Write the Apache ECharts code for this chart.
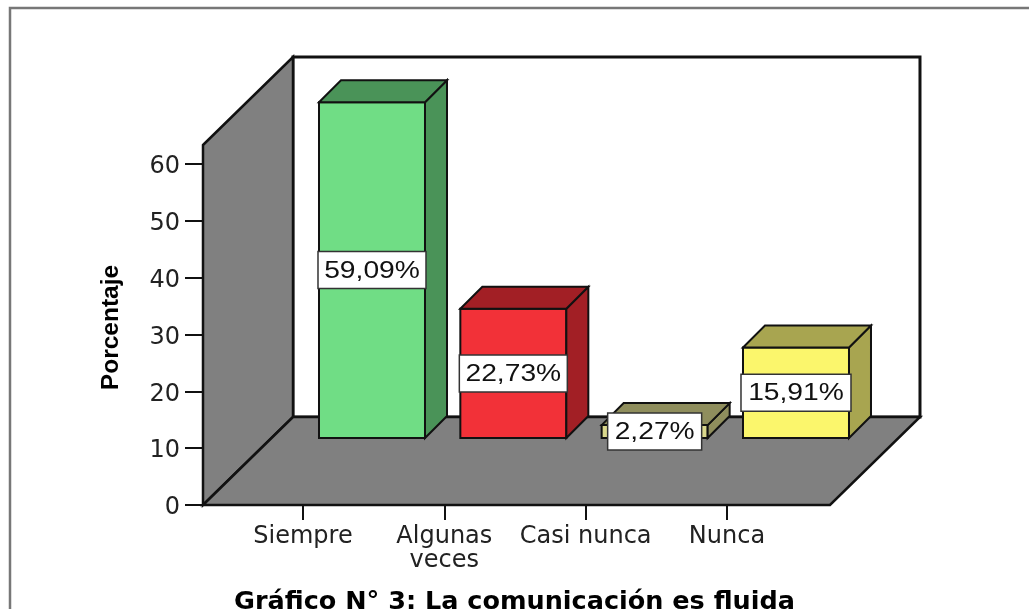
<!DOCTYPE html>
<html>
<head>
<meta charset="utf-8">
<style>html,body{margin:0;padding:0;background:#fff}#c{width:1029px;height:609px}</style>
<script src="https://cdn.jsdelivr.net/npm/echarts@6/dist/echarts.min.js"></script>
</head>
<body>
<div id="c"></div>
<script>
const categories = ['Siempre', 'Algunas\nveces', 'Casi nunca', 'Nunca'];
const values = [59.09, 22.73, 2.27, 15.91];
const yTicks = [0, 60, 10];
const frontColors = ['#70DD85', '#F23138', '#D9D78C', '#FBF66C'];
const darkColors = ['#4A9358', '#A21F25', '#8F8E5D', '#A8A550'];
const titleText = 'Gráfico N° 3: La comunicación es fluida';
const axisTitle = 'Porcentaje';

const chart = echarts.init(document.getElementById('c'));
const INK = '#111';
const WALL = '#808080';
// Depth projection of the box
const wallDX = 90, wallDY = -88;
const barPlaneDX = 69, barPlaneDY = -67;
const barDepthDX = 22, barDepthDY = -22;
const barWidth = 106;
const sidePad = 29.33, topPad = 19;

function poly(points, fill, width) {
  return { type: 'polygon', shape: { points }, style: { fill, stroke: INK, lineWidth: width, lineJoin: 'miter' } };
}

function renderWalls(params, api) {
  const cs = params.coordSys;
  const x0 = cs.x - sidePad, x1 = cs.x + cs.width + sidePad + 3;
  const yb = cs.y + cs.height, yt = cs.y - topPad;
  const dx = wallDX, dy = wallDY;
  return { type: 'group', silent: true, children: [
    poly([[x0 + dx, yt + dy], [x1 + dx, yt + dy], [x1 + dx, yb + dy], [x0 + dx, yb + dy]], '#fff', 3),
    poly([[x0, yt], [x0 + dx, yt + dy], [x0 + dx, yb + dy], [x0, yb]], WALL, 2.5),
    poly([[x0, yb], [x0 + dx, yb + dy], [x1 + dx, yb + dy], [x1, yb]], WALL, 2.5)
  ]};
}

function renderBar(params, api) {
  const i = api.value(0), v = api.value(1);
  const base = api.coord([i, 0]), top = api.coord([i, v]);
  const l = base[0] + barPlaneDX - barWidth / 2, r = l + barWidth;
  const b = base[1] + barPlaneDY, t = top[1] + barPlaneDY;
  const dx = barDepthDX, dy = barDepthDY;
  const front = frontColors[params.dataIndex], dark = darkColors[params.dataIndex];
  const label = v.toFixed(2).replace('.', ',') + '%';
  const bw = params.dataIndex === 3 ? 110 : params.dataIndex === 2 ? 94 : 108;
  const cx = (l + r) / 2, cy = (t + b) / 2;
  return { type: 'group', silent: true, children: [
    poly([[l, t], [r, t], [r, b], [l, b]], front, 2),
    poly([[r, t], [r + dx, t + dy], [r + dx, b + dy], [r, b]], dark, 2),
    poly([[l, t], [l + dx, t + dy], [r + dx, t + dy], [r, t]], dark, 2),
    { type: 'rect', shape: { x: cx - bw / 2, y: cy - 18.5, width: bw, height: 37 },
      style: { fill: '#fff', stroke: '#333', lineWidth: 1.5 } },
    { type: 'text', x: cx, y: cy + 1, scaleX: 1.2, style: { text: label, fill: '#111',
      font: '23.5px "Liberation Sans"', align: 'center', verticalAlign: 'middle' } }
  ]};
}

chart.setOption({
  animation: false,
  backgroundColor: '#fff',
  title: { text: titleText, left: 'center', top: 589, padding: 0,
    textStyle: { fontFamily: 'DejaVu Sans', fontWeight: 'bold', fontSize: 25.5, color: '#000' } },
  graphic: [{ type: 'rect', shape: { x: 10, y: 8, width: 1100, height: 700 },
    style: { fill: 'none', stroke: '#777', lineWidth: 2.5 }, silent: true }],
  grid: { left: 232.33, width: 565.33, top: 164, height: 341 },
  xAxis: { type: 'category', data: categories,
    axisLine: { show: false },
    axisTick: { show: true, alignWithLabel: true, length: 15, lineStyle: { color: INK, width: 2 } },
    axisLabel: { fontFamily: 'DejaVu Sans', fontSize: 24, color: '#222', margin: 20, lineHeight: 24, interval: 0 } },
  yAxis: { type: 'value', min: yTicks[0], max: yTicks[1], interval: yTicks[2], offset: 29.33,
    name: axisTitle, nameLocation: 'middle', nameGap: 79, nameRotate: 90,
    nameTextStyle: { fontFamily: 'Liberation Sans', fontWeight: 'bold', fontSize: 24.5, color: '#000', padding: [0, 0, 0, 14] },
    splitLine: { show: false }, axisLine: { show: false },
    axisTick: { show: true, length: 18, lineStyle: { color: INK, width: 2 } },
    axisLabel: { fontFamily: 'DejaVu Sans', fontSize: 24, color: '#222', margin: 23, verticalAlign: 'top', lineHeight: 6 } },
  series: [
    { type: 'custom', clip: false, renderItem: renderWalls, data: [[0, 0]], z: 1, silent: true },
    { type: 'custom', clip: false, renderItem: renderBar, z: 2, silent: true,
      data: values.map((v, i) => [i, v]), encode: { x: 0, y: 1 } }
  ]
});
</script>
</body>
</html>
